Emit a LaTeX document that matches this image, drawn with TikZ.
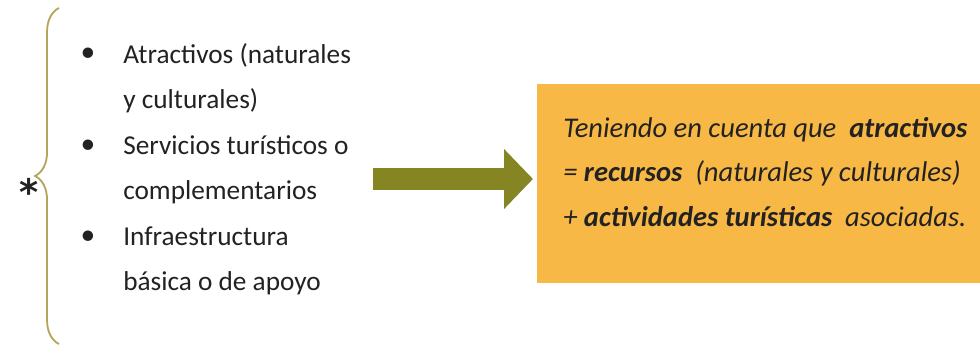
\documentclass[tikz,border=0pt]{standalone}
\usepackage{fontspec}
\setmainfont{Carlito}
\newfontfamily\symfont{DejaVu Sans}
\usetikzlibrary{arrows.meta,decorations.pathreplacing}
\definecolor{bracecol}{HTML}{B3A65A}
\definecolor{arrowcol}{HTML}{858523}
\definecolor{boxcol}{HTML}{F8B846}
\definecolor{txtcol}{HTML}{222222}
\tikzset{
  item/.style={anchor=west, align=left, inner sep=0pt, text=txtcol,
    font=\fontsize{19.4}{32.3}\selectfont},
  dot/.style={inner sep=0pt, text=txtcol, font=\fontsize{21}{24}\selectfont},
  note/.style={anchor=west, align=left, inner sep=0pt, text=txtcol,
    font=\fontsize{20.3}{31.9}\selectfont\itshape},
}
\begin{document}
\begin{tikzpicture}[x=0.025cm,y=-0.025cm]
  \useasboundingbox (0,0) rectangle (980,347);
  % left list
  \node[dot] (star) at (29,192) {\symfont\bfseries\fontsize{26}{26}\selectfont *};
  \draw[bracecol, line width=1.3pt, decorate,
        decoration={brace,amplitude=17}] (59,344) -- (59,8);
  \node[item] (a) at (123,78) {Atractivos (naturales\\y culturales)};
  \node[item] (s) at (123,169.5) {Servicios turísticos o\\complementarios};
  \node[item] (i) at (123,261) {Infraestructura\\básica o de apoyo};
  \foreach \y/\n in {55/ba,147/bs,238/bi}
    \node[dot] (\n) at (88,\y) {\textbullet};
  % box
  \fill[boxcol] (537,84) rectangle (985,283);
  \node[note] (box) at (563,172)
    {Teniendo en cuenta que \ \textbf{atractivos}\\
     = \textbf{recursos} \ (naturales y culturales)\\
     + \textbf{actividades turísticas} \ asociadas.};
  % arrow
  \coordinate (tail) at (373,179);
  \coordinate (tip) at (533,179);
  \draw[arrowcol, line width=0.55cm, -{Triangle[length=0.72cm,width=1.45cm]}]
    (tail) -- (tip);
\end{tikzpicture}
\end{document}
